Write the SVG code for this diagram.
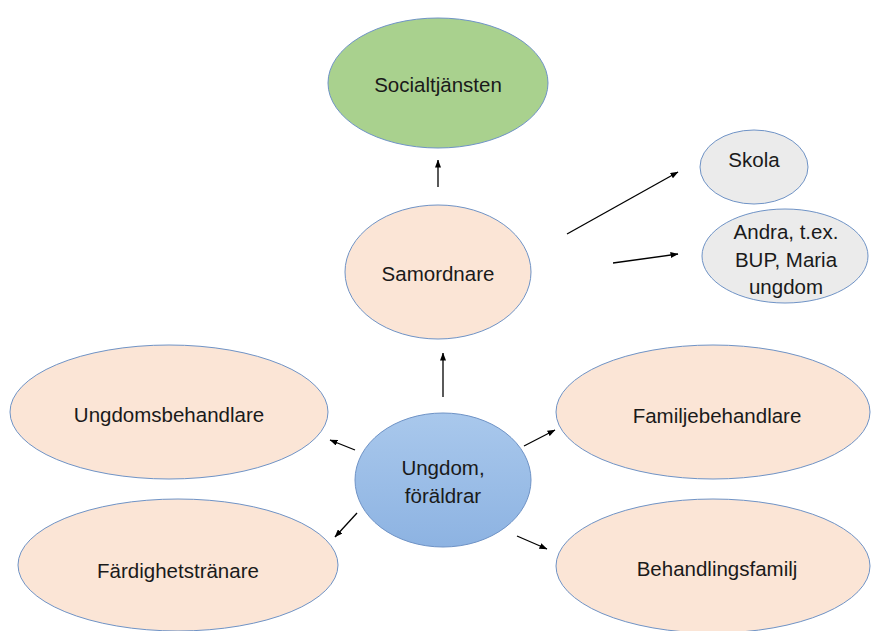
<svg xmlns="http://www.w3.org/2000/svg" width="871" height="631" viewBox="0 0 871 631">
<defs>
<marker id="ah" markerWidth="8" markerHeight="6" refX="7.5" refY="3" orient="auto" markerUnits="userSpaceOnUse">
<path d="M0,0 L8,3 L0,6 Z" fill="#000"/>
</marker>
<linearGradient id="bl" x1="0" y1="0" x2="0" y2="1">
<stop offset="0" stop-color="#A9C8EC"/>
<stop offset="1" stop-color="#8DB3E2"/>
</linearGradient>
<style>
.n{stroke:#6F93C6;stroke-width:1}
.peach{fill:#FBE5D6}
.grey{fill:#EBEBEB}
.t{font-family:"Liberation Sans",Arial,sans-serif;font-size:20.5px;fill:#1a1a1a;text-anchor:middle;dominant-baseline:central}
.c{stroke:#000;stroke-width:1.3;fill:none;marker-end:url(#ah)}
</style>
</defs>
<rect width="871" height="631" fill="#fff"/>
<g id="socialtjansten"><ellipse class="n" cx="438" cy="83" rx="110" ry="65" fill="#A9D18E"/><text class="t" x="438" y="84">Socialtjänsten</text></g>
<g id="samordnare"><ellipse class="n peach" cx="438" cy="272" rx="93" ry="67"/><text class="t" x="438" y="273">Samordnare</text></g>
<g id="skola"><ellipse class="n grey" cx="754" cy="167" rx="54" ry="37"/><text class="t" x="754" y="159">Skola</text></g>
<g id="andra"><ellipse class="n grey" cx="785" cy="256" rx="83" ry="47"/><text class="t" x="786" y="231">Andra, t.ex.</text><text class="t" x="786" y="259">BUP, Maria</text><text class="t" x="786" y="286">ungdom</text></g>
<g id="ungdom"><ellipse class="n" cx="443" cy="480" rx="88" ry="67" fill="url(#bl)"/><text class="t" x="443" y="467">Ungdom,</text><text class="t" x="443" y="495">föräldrar</text></g>
<g id="ungdomsbehandlare"><ellipse class="n peach" cx="169" cy="412" rx="159" ry="67"/><text class="t" x="169" y="414">Ungdomsbehandlare</text></g>
<g id="fardighetstranare"><ellipse class="n peach" cx="178" cy="565" rx="160" ry="66"/><text class="t" x="178" y="570">Färdighetstränare</text></g>
<g id="familjebehandlare"><ellipse class="n peach" cx="713" cy="412" rx="157" ry="67"/><text class="t" x="717" y="415">Familjebehandlare</text></g>
<g id="behandlingsfamilj"><ellipse class="n peach" cx="713" cy="566" rx="157" ry="67"/><text class="t" x="717" y="568">Behandlingsfamilj</text></g>
<g id="connectors">
<line class="c" x1="438" y1="187" x2="438" y2="160"/>
<line class="c" x1="567" y1="234" x2="678" y2="172"/>
<line class="c" x1="613" y1="263" x2="678" y2="254"/>
<line class="c" x1="443" y1="397" x2="443" y2="353"/>
<line class="c" x1="355" y1="450" x2="330" y2="440"/>
<line class="c" x1="357" y1="513" x2="335" y2="537"/>
<line class="c" x1="524" y1="446" x2="555" y2="430"/>
<line class="c" x1="517" y1="536" x2="547" y2="549"/>
</g>
</svg>
